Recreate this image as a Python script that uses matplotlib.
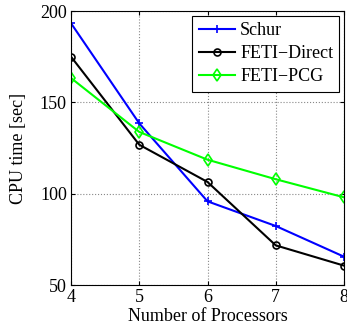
import matplotlib
matplotlib.use("Agg")
import matplotlib.pyplot as plt

processors = [4, 5, 6, 7, 8]
schur = [193.3, 138.5, 95.8, 82.3, 65.5]
feti_direct = [175.0, 126.8, 106.4, 71.7, 60.6]
feti_pcg = [163.3, 133.8, 118.6, 107.9, 98.0]

plt.rcParams['font.family'] = ['Liberation Serif', 'DejaVu Serif']

fig = plt.figure(figsize=(3.47, 3.28), dpi=100)
ax = fig.add_axes([71/347, 1-285/328, (344-71)/347, (285-11)/328])

ax.plot(processors, schur, color='#0000ff', marker='+', markersize=6, mew=1.2, lw=1.5, label='Schur')
ax.plot(processors, feti_direct, color='black', marker='o', markersize=5, mfc='none', mew=1.2, lw=1.5, label='FETI\u2212Direct')
ax.plot(processors, feti_pcg, color='#00ff00', marker='d', markersize=6, mfc='none', mew=1.2, lw=1.5, label='FETI\u2212PCG')

ax.set_xlim(4, 8)
ax.set_ylim(50, 200)
ax.set_xticks([4, 5, 6, 7, 8])
ax.set_yticks([50, 100, 150, 200])
ax.grid(True, linestyle=':', color='#888888', lw=0.8)
ax.tick_params(direction='in', labelsize=13, length=3, top=True, right=True, pad=3)
for s in ax.spines.values():
    s.set_linewidth(0.8)
ax.set_xlabel('Number of Processors', fontsize=13, labelpad=1)
ax.set_ylabel('CPU time [sec]', fontsize=13, labelpad=9)

leg = ax.legend(loc='upper right', fontsize=13, fancybox=False, framealpha=1,
                edgecolor='black', borderpad=0.35, labelspacing=0.35, handlelength=2.0,
                handletextpad=0.3, borderaxespad=0.25)
leg.get_frame().set_linewidth(0.8)

fig.savefig('out.png', dpi=100)
